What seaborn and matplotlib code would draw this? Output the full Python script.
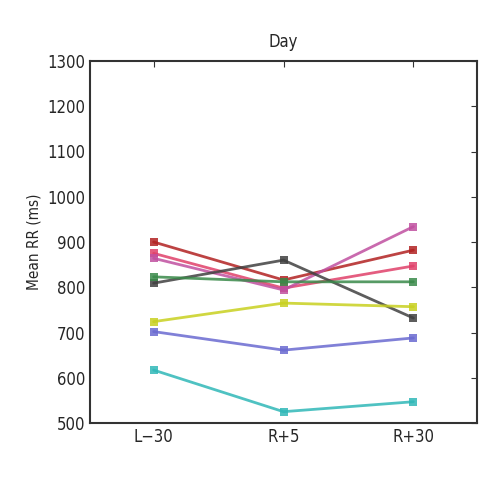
import numpy as np
import pandas as pd
import matplotlib
matplotlib.use("Agg")
import matplotlib.pyplot as plt
import seaborn as sns

days = ["L\u221230", "R+5", "R+30"]
s_darkred = [900, 816, 882]
s_crimson = [875, 798, 847]
s_magenta = [864, 794, 934]
s_black = [809, 860, 732]
s_green = [823, 812, 812]
s_yellow = [724, 765, 757]
s_blue = [702, 661, 688]
s_cyan = [617, 525, 547]

series = {
    "darkred": s_darkred, "crimson": s_crimson, "magenta": s_magenta,
    "black": s_black, "green": s_green, "yellow": s_yellow,
    "blue": s_blue, "cyan": s_cyan,
}
colors = {
    "darkred": "#b22222", "crimson": "#e0406a", "magenta": "#c050a0",
    "black": "#404040", "green": "#3a8a4a", "yellow": "#c8d020",
    "blue": "#6a6ad0", "cyan": "#30b8b8",
}

rows = []
for name, vals in series.items():
    for i, v in enumerate(vals):
        rows.append({"subject": name, "x": i, "day": days[i], "rr": v})
df = pd.DataFrame(rows)

sns.set_style("white")
plt.rcParams["font.family"] = ["DejaVu Sans"]
plt.rcParams["font.stretch"] = "condensed"

fig = plt.figure(figsize=(5, 5), dpi=100)
ax = fig.add_axes([0.18, 0.154, 0.774, 0.724])
sns.lineplot(data=df, x="x", y="rr", hue="subject", palette=colors,
             marker="s", markersize=6, markeredgewidth=0, linewidth=2,
             alpha=0.85, legend=False, ax=ax)

ax.set_xlim(-0.49, 2.49)
ax.set_ylim(500, 1300)
ax.set_xticks(range(len(days)))
ax.set_xticklabels(days)
ax.set_yticks(np.arange(500, 1301, 100))
ax.set_xlabel("")
ax.set_ylabel("Mean RR (ms)", fontsize=11)
ax.set_title("Day", fontsize=12, pad=10)
ax.tick_params(direction="in", length=4, labelsize=12, top=True, right=True,
               color="#333333")
for sp in ax.spines.values():
    sp.set_visible(True)
    sp.set_color("#333333")
    sp.set_linewidth(1.5)

fig.savefig("out.png", dpi=100)
